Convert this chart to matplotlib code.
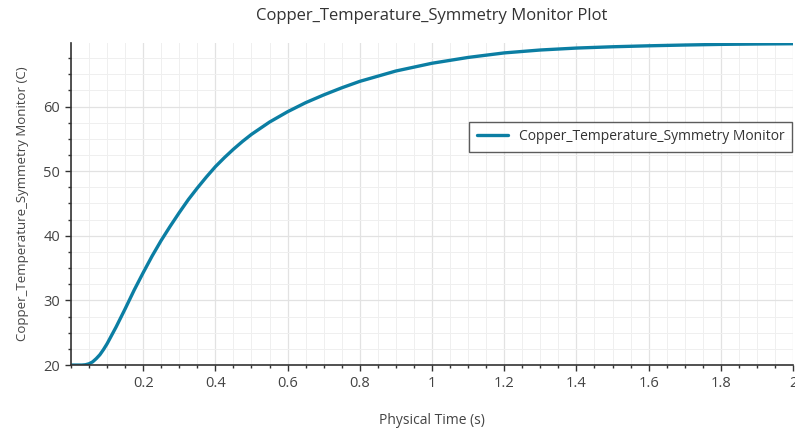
import numpy as np
import matplotlib
matplotlib.use('Agg')
import matplotlib.pyplot as plt
from matplotlib.ticker import MultipleLocator, FormatStrFormatter

plt.rcParams['font.family'] = ['Open Sans', 'DejaVu Sans']

# values
time_s = [0.0, 0.03, 0.04, 0.05, 0.06, 0.07, 0.08, 0.09, 0.1, 0.125, 0.15,
          0.175, 0.2, 0.225, 0.25, 0.275, 0.3, 0.325, 0.35, 0.375, 0.4,
          0.425, 0.45, 0.475, 0.5, 0.55, 0.6, 0.65, 0.7, 0.75, 0.8, 0.85,
          0.9, 0.95, 1.0, 1.1, 1.2, 1.3, 1.4, 1.5, 1.6, 1.7, 1.8, 1.9, 2.0]
temp_c = [20.0, 20.0, 20.05, 20.2, 20.5, 21.0, 21.6, 22.4, 23.3, 25.9, 28.7,
          31.6, 34.3, 36.9, 39.3, 41.5, 43.6, 45.6, 47.4, 49.1, 50.7,
          52.1, 53.4, 54.6, 55.7, 57.6, 59.2, 60.6, 61.8, 62.9, 63.9, 64.7,
          65.5, 66.1, 66.7, 67.6, 68.3, 68.75, 69.05, 69.25, 69.4, 69.52,
          69.62, 69.68, 69.72]
x_ticks = [0.2, 0.4, 0.6, 0.8, 1.0, 1.2, 1.4, 1.6, 1.8, 2.0]
y_ticks = [20, 30, 40, 50, 60]

line_color = '#0b7ea3'
text_color = '#444444'

fig = plt.figure(figsize=(7.95, 4.3), dpi=100)
ax = fig.add_axes([0.0893, 0.151, 0.9082, 0.750])

ax.plot(time_s, temp_c, color=line_color, lw=2.4,
        label='Copper_Temperature_Symmetry Monitor', solid_capstyle='round',
        solid_joinstyle='round')

ax.set_xlim(0, 2.0)
ax.set_ylim(20, 69.9)
ax.set_xticks(x_ticks)
ax.set_yticks(y_ticks)
ax.xaxis.set_major_formatter(FormatStrFormatter('%g'))
ax.xaxis.set_minor_locator(MultipleLocator(0.05))
ax.yaxis.set_minor_locator(MultipleLocator(2.5))

ax.grid(True, which='major', color='#e2e2e2', lw=0.9)
ax.grid(True, which='minor', color='#efefef', lw=0.7)
ax.set_axisbelow(True)

for side in ['top', 'right']:
    ax.spines[side].set_visible(False)
for side in ['left', 'bottom']:
    ax.spines[side].set_color('#333333')
    ax.spines[side].set_linewidth(1.2)

ax.tick_params(which='major', direction='out', length=4, width=1, color='#333333',
               labelsize=10.5, labelcolor=text_color, pad=4)
ax.tick_params(which='minor', direction='out', length=2.5, width=1, color='#333333')

ax.set_title('Copper_Temperature_Symmetry Monitor Plot', fontsize=12,
             color='#333333', pad=16)
ax.set_xlabel('Physical Time (s)', fontsize=10, color=text_color, labelpad=16)
ax.set_ylabel('Copper_Temperature_Symmetry Monitor (C)', fontsize=9.5,
              color=text_color, labelpad=10)

leg = ax.legend(loc='upper right', bbox_to_anchor=(0.9985, 0.755), fontsize=10,
                frameon=True, fancybox=False, handlelength=2.2,
                borderpad=0.55, borderaxespad=0, labelcolor='#333333')
leg.get_frame().set_edgecolor('#333333')
leg.get_frame().set_linewidth(1.0)

plt.savefig('out.png', dpi=100)
plt.close(fig)
